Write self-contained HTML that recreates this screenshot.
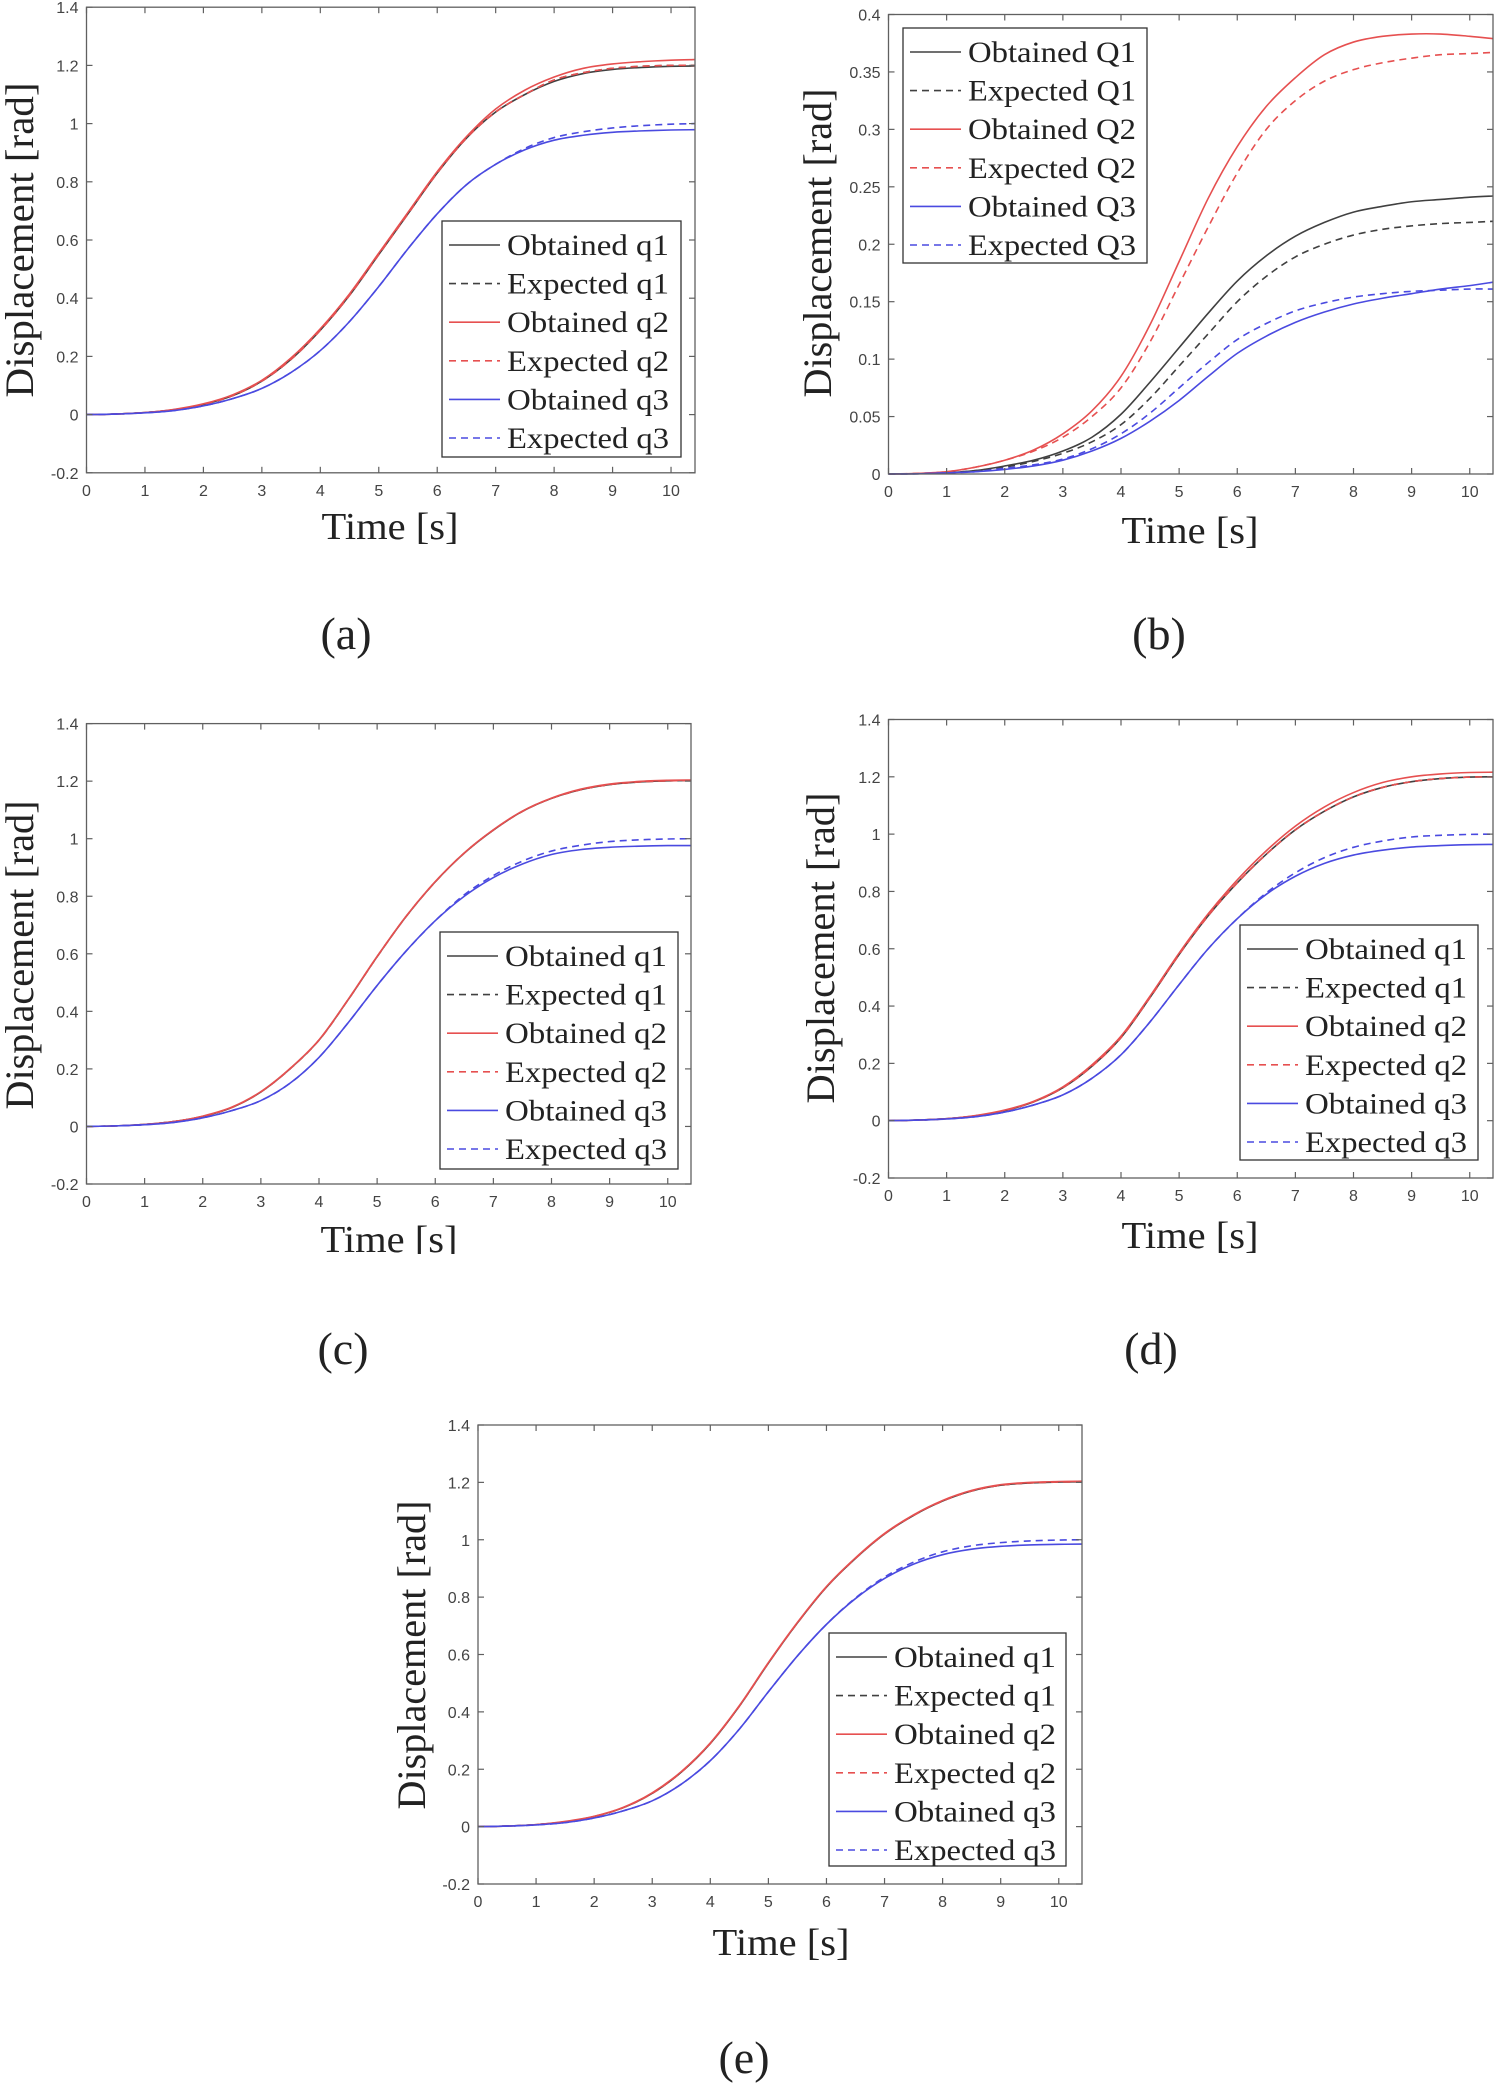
<!DOCTYPE html>
<html><head><meta charset="utf-8"><style>
html,body{margin:0;padding:0;background:#fff;}
svg{display:block;}
.tick{font-family:"Liberation Sans",sans-serif;font-size:16px;fill:#444;}
.lab{font-family:"Liberation Serif",serif;fill:#222;}
</style></head><body>
<svg id="fig" width="1500" height="2088" viewBox="0 0 1500 2088" xmlns="http://www.w3.org/2000/svg">
<defs><clipPath id="clipC"><rect x="0" y="0" width="750" height="1254"/></clipPath></defs>
</svg>
<script>
const times = [0,0.5,1,1.5,2,2.5,3,3.5,4,4.5,5,5.5,6,6.5,7,7.5,8,8.5,9,9.5,10,10.4];
const xTicks = [0,1,2,3,4,5,6,7,8,9,10];
const yTicksQ = [-0.2,0,0.2,0.4,0.6,0.8,1,1.2,1.4];
const yTickLabelsQ = ["-0.2","0","0.2","0.4","0.6","0.8","1","1.2","1.4"];
const yTicksB = [0,0.05,0.1,0.15,0.2,0.25,0.3,0.35,0.4];
const yTickLabelsB = ["0","0.05","0.1","0.15","0.2","0.25","0.3","0.35","0.4"];
const legendQ = ["Obtained q1","Expected q1","Obtained q2","Expected q2","Obtained q3","Expected q3"];
const legendB = ["Obtained Q1","Expected Q1","Obtained Q2","Expected Q2","Obtained Q3","Expected Q3"];

// panel (a)
const a_q1_obt = [0,0.002,0.007,0.017,0.035,0.065,0.115,0.19,0.29,0.41,0.55,0.69,0.83,0.95,1.04,1.10,1.145,1.172,1.186,1.193,1.197,1.198];
const a_q1_exp = [0,0.002,0.007,0.017,0.035,0.065,0.115,0.19,0.29,0.41,0.55,0.69,0.83,0.95,1.04,1.10,1.15,1.175,1.19,1.197,1.2,1.2];
const a_q2_obt = [0,0.002,0.007,0.018,0.037,0.068,0.118,0.195,0.295,0.415,0.555,0.695,0.835,0.955,1.05,1.115,1.16,1.19,1.205,1.213,1.218,1.22];
const a_q2_exp = [0,0.002,0.007,0.017,0.035,0.065,0.115,0.19,0.29,0.41,0.55,0.69,0.83,0.95,1.04,1.10,1.15,1.175,1.19,1.197,1.2,1.2];
const a_q3_obt = [0,0.002,0.006,0.014,0.03,0.055,0.09,0.145,0.22,0.32,0.44,0.57,0.69,0.79,0.86,0.91,0.943,0.96,0.97,0.975,0.978,0.979];
const a_q3_exp = [0,0.002,0.006,0.014,0.03,0.055,0.09,0.145,0.22,0.32,0.44,0.57,0.69,0.79,0.86,0.915,0.952,0.972,0.985,0.993,0.998,1.0];
// panel (b)
const b_q1_obt = [0,0.0003,0.001,0.003,0.007,0.012,0.02,0.032,0.052,0.08,0.11,0.14,0.168,0.19,0.207,0.219,0.228,0.233,0.237,0.239,0.241,0.242];
const b_q1_exp = [0,0.0003,0.001,0.003,0.006,0.011,0.018,0.028,0.043,0.066,0.094,0.122,0.15,0.172,0.189,0.2,0.208,0.213,0.216,0.218,0.219,0.22];
const b_q2_obt = [0,0.0005,0.002,0.006,0.012,0.021,0.035,0.055,0.085,0.13,0.185,0.24,0.285,0.32,0.345,0.365,0.376,0.381,0.383,0.383,0.381,0.379];
const b_q2_exp = [0,0.0005,0.002,0.006,0.012,0.02,0.032,0.05,0.075,0.115,0.165,0.215,0.262,0.3,0.325,0.342,0.352,0.358,0.362,0.365,0.366,0.367];
const b_q3_obt = [0,0.0002,0.001,0.002,0.004,0.007,0.012,0.02,0.031,0.046,0.064,0.085,0.105,0.12,0.132,0.141,0.148,0.153,0.157,0.161,0.164,0.167];
const b_q3_exp = [0,0.0002,0.001,0.002,0.005,0.008,0.013,0.022,0.035,0.053,0.075,0.097,0.117,0.131,0.142,0.149,0.154,0.157,0.159,0.16,0.161,0.161];
// panel (c)
const c_q1_obt = [0,0.002,0.007,0.017,0.035,0.066,0.12,0.2,0.3,0.44,0.59,0.73,0.85,0.95,1.03,1.095,1.14,1.17,1.188,1.197,1.201,1.202];
const c_q1_exp = [0,0.002,0.007,0.017,0.035,0.066,0.12,0.2,0.3,0.44,0.59,0.73,0.85,0.95,1.03,1.095,1.14,1.17,1.188,1.197,1.201,1.202];
const c_q2_obt = [0,0.002,0.007,0.017,0.036,0.067,0.121,0.201,0.301,0.441,0.591,0.731,0.851,0.951,1.031,1.096,1.141,1.172,1.19,1.199,1.203,1.204];
const c_q2_exp = [0,0.002,0.007,0.017,0.035,0.066,0.12,0.2,0.3,0.44,0.59,0.73,0.85,0.95,1.03,1.095,1.14,1.17,1.188,1.197,1.201,1.202];
const c_q3_obt = [0,0.002,0.006,0.014,0.03,0.055,0.09,0.15,0.24,0.36,0.49,0.61,0.715,0.8,0.865,0.912,0.945,0.962,0.97,0.974,0.976,0.976];
const c_q3_exp = [0,0.002,0.006,0.014,0.03,0.055,0.09,0.15,0.24,0.36,0.49,0.61,0.715,0.805,0.872,0.922,0.957,0.977,0.99,0.996,0.999,1.0];
// panel (d)
const d_q1_obt = [0,0.002,0.007,0.017,0.035,0.066,0.115,0.19,0.29,0.43,0.58,0.715,0.83,0.93,1.015,1.08,1.13,1.163,1.183,1.194,1.199,1.2];
const d_q1_exp = [0,0.002,0.007,0.017,0.035,0.066,0.115,0.19,0.29,0.43,0.58,0.715,0.83,0.93,1.015,1.08,1.13,1.163,1.183,1.194,1.199,1.2];
const d_q2_obt = [0,0.002,0.007,0.018,0.037,0.068,0.118,0.195,0.295,0.435,0.585,0.722,0.84,0.942,1.028,1.095,1.145,1.18,1.2,1.21,1.215,1.216];
const d_q2_exp = [0,0.002,0.007,0.017,0.035,0.066,0.115,0.19,0.29,0.43,0.58,0.715,0.83,0.93,1.015,1.08,1.13,1.163,1.183,1.194,1.199,1.2];
const d_q3_obt = [0,0.002,0.006,0.014,0.03,0.055,0.09,0.148,0.23,0.345,0.475,0.6,0.705,0.79,0.853,0.898,0.927,0.944,0.955,0.96,0.963,0.964];
const d_q3_exp = [0,0.002,0.006,0.014,0.03,0.055,0.09,0.148,0.23,0.345,0.475,0.6,0.705,0.795,0.865,0.918,0.954,0.976,0.99,0.996,0.999,1.0];
// panel (e)
const e_q1_obt = [0,0.002,0.007,0.017,0.035,0.066,0.116,0.19,0.29,0.42,0.57,0.71,0.835,0.935,1.02,1.085,1.135,1.17,1.19,1.198,1.201,1.202];
const e_q1_exp = [0,0.002,0.007,0.017,0.035,0.066,0.116,0.19,0.29,0.42,0.57,0.71,0.835,0.935,1.02,1.085,1.135,1.17,1.19,1.198,1.201,1.202];
const e_q2_obt = [0,0.002,0.007,0.018,0.036,0.067,0.118,0.192,0.292,0.422,0.572,0.712,0.837,0.937,1.022,1.087,1.137,1.172,1.192,1.2,1.203,1.204];
const e_q2_exp = [0,0.002,0.007,0.017,0.035,0.066,0.116,0.19,0.29,0.42,0.57,0.71,0.835,0.935,1.02,1.085,1.135,1.17,1.19,1.198,1.201,1.202];
const e_q3_obt = [0,0.002,0.006,0.014,0.03,0.055,0.09,0.148,0.23,0.34,0.47,0.595,0.705,0.795,0.865,0.915,0.948,0.967,0.977,0.982,0.984,0.985];
const e_q3_exp = [0,0.002,0.006,0.014,0.03,0.055,0.09,0.148,0.23,0.34,0.47,0.595,0.705,0.797,0.87,0.922,0.958,0.979,0.99,0.996,0.999,1.0];

const NS = "http://www.w3.org/2000/svg";
const svg = document.getElementById("fig");
const COL = {k:"#404040", r:"#e65050", b:"#4a4ae0"};

function mk(tag, attrs, parent){
  const el = document.createElementNS(NS, tag);
  for (const k in attrs) el.setAttribute(k, attrs[k]);
  (parent||svg).appendChild(el);
  return el;
}
function smoothPath(pts){
  let d = "M" + pts[0][0].toFixed(2) + "," + pts[0][1].toFixed(2);
  for (let i=0;i<pts.length-1;i++){
    const p0 = pts[Math.max(0,i-1)], p1 = pts[i], p2 = pts[i+1], p3 = pts[Math.min(pts.length-1,i+2)];
    const c1x = p1[0] + (p2[0]-p0[0])/6, c1y = p1[1] + (p2[1]-p0[1])/6;
    const c2x = p2[0] - (p3[0]-p1[0])/6, c2y = p2[1] - (p3[1]-p1[1])/6;
    d += " C" + c1x.toFixed(2)+","+c1y.toFixed(2)+" "+c2x.toFixed(2)+","+c2y.toFixed(2)+" "+p2[0].toFixed(2)+","+p2[1].toFixed(2);
  }
  return d;
}

function drawPanel(p){
  const g = mk("g", {});
  
  
  if (p.clip) g.setAttribute('clip-path', p.clip);
  const xS = v => p.L + (v - 0) / (p.xmax - 0) * (p.R - p.L);
  const yS = v => p.B - (v - p.ymin) / (p.ymax - p.ymin) * (p.B - p.T);

  p.series.forEach((s, i) => {
    const pts = times.map((t, j) => [xS(t), yS(s.data[j])]);
    const path = mk("path", {d: smoothPath(pts), fill:"none", stroke: COL[s.c], "stroke-width": 1.6, "stroke-dasharray": s.dash ? "7 5" : "none"}, g);
    
    
  });

  const box = mk("rect", {x:p.L, y:p.T, width:p.R-p.L, height:p.B-p.T, fill:"none", stroke:"#606060", "stroke-width":1.3}, g);
  
  

  xTicks.forEach(v => {
    const x = xS(v);
    mk("line", {x1:x, x2:x, y1:p.B, y2:p.B-6, stroke:"#606060", "stroke-width":1.2}, g);
    mk("line", {x1:x, x2:x, y1:p.T, y2:p.T+6, stroke:"#606060", "stroke-width":1.2}, g);
    const t = mk("text", {x:x, y:p.B+23, "text-anchor":"middle", class:"tick"}, g);
    t.textContent = String(v);
    
    
  });
  p.yTicks.forEach((v, i) => {
    const y = yS(v);
    mk("line", {x1:p.L, x2:p.L+6, y1:y, y2:y, stroke:"#606060", "stroke-width":1.2}, g);
    mk("line", {x1:p.R, x2:p.R-6, y1:y, y2:y, stroke:"#606060", "stroke-width":1.2}, g);
    const t = mk("text", {x:p.L-8, y:y+6, "text-anchor":"end", class:"tick"}, g);
    t.textContent = p.yLabels[i];
    
    
  });

  const lg = mk("g", {}, g);
  
  
  mk("rect", {x:p.lg[0], y:p.lg[1], width:p.lg[2]-p.lg[0], height:p.lg[3]-p.lg[1], fill:"#fff", stroke:"#333", "stroke-width":1.3}, lg);
  p.series.forEach((s, i) => {
    const cy = p.lg[1] + 24 + i * 38.6;
    const entry = mk("g", {}, lg);
    
    
    mk("line", {x1:p.lg[0]+7, x2:p.lg[0]+58, y1:cy, y2:cy, stroke:COL[s.c], "stroke-width":1.6, "stroke-dasharray": s.dash ? "7 5" : "none"}, entry);
    const t = mk("text", {x:p.lg[0]+65, y:cy+10, class:"lab", "font-size":30, textLength:p.lgw, lengthAdjust:"spacingAndGlyphs"}, entry);
    t.textContent = p.legend[i];
  });

  const yl = mk("text", {x:0, y:0, class:"lab", "font-size":40, "text-anchor":"middle", textLength:p.ylen, lengthAdjust:"spacingAndGlyphs",
    transform:"translate("+(p.ylab[0]+14)+","+p.ylab[1]+") rotate(-90)"}, g);
  yl.textContent = "Displacement [rad]";
  
  
  const xl = mk("text", {x:p.xlab[0], y:p.xlab[1], class:"lab", "font-size":38, "text-anchor":"middle", textLength:137, lengthAdjust:"spacingAndGlyphs"}, g);
  xl.textContent = "Time [s]";
  
  

  const cap = mk("text", {x:p.cap[0], y:p.cap[1]+15, class:"lab", "font-size":46, "text-anchor":"middle"});
  cap.textContent = "(" + p.id + ")";
  
  
}

function qSeries(o1,e1,o2,e2,o3,e3){
  return [{data:o1,c:"k"},{data:e1,c:"k",dash:1},{data:o2,c:"r"},{data:e2,c:"r",dash:1},{data:o3,c:"b"},{data:e3,c:"b",dash:1}];
}

drawPanel({id:"a", L:86.5, R:695, T:7.2, B:472.8, xmax:10.41, ymin:-0.2, ymax:1.4, yTicks:yTicksQ, yLabels:yTickLabelsQ,
  series:qSeries(a_q1_obt,a_q1_exp,a_q2_obt,a_q2_exp,a_q3_obt,a_q3_exp), legend:legendQ, lg:[442,221,681,457], lgw:162,
  ylab:[19,240], ylen:315, xlab:[390,539], cap:[346,634]});
drawPanel({id:"b", L:888.5, R:1493, T:14.5, B:474, xmax:10.4, ymin:0, ymax:0.4, yTicks:yTicksB, yLabels:yTickLabelsB,
  series:qSeries(b_q1_obt,b_q1_exp,b_q2_obt,b_q2_exp,b_q3_obt,b_q3_exp), legend:legendB, lg:[903,28,1147,263], lgw:168,
  ylab:[817,243], ylen:309, xlab:[1190,543], cap:[1159,634]});
drawPanel({id:"c", L:86.5, R:691, T:723.6, B:1184, xmax:10.4, ymin:-0.2, ymax:1.4, yTicks:yTicksQ, yLabels:yTickLabelsQ,
  series:qSeries(c_q1_obt,c_q1_exp,c_q2_obt,c_q2_exp,c_q3_obt,c_q3_exp), legend:legendQ, lg:[440,932,678,1169], lgw:162,
  ylab:[19,955], ylen:309, xlab:[389,1252], cap:[343,1349], clip:"url(#clipC)"});
drawPanel({id:"d", L:888.5, R:1493, T:719.5, B:1178, xmax:10.4, ymin:-0.2, ymax:1.4, yTicks:yTicksQ, yLabels:yTickLabelsQ,
  series:qSeries(d_q1_obt,d_q1_exp,d_q2_obt,d_q2_exp,d_q3_obt,d_q3_exp), legend:legendQ, lg:[1240,925,1478,1160], lgw:162,
  ylab:[820,948], ylen:311, xlab:[1190,1248], cap:[1151,1349]});
drawPanel({id:"e", L:478, R:1082, T:1425, B:1884, xmax:10.4, ymin:-0.2, ymax:1.4, yTicks:yTicksQ, yLabels:yTickLabelsQ,
  series:qSeries(e_q1_obt,e_q1_exp,e_q2_obt,e_q2_exp,e_q3_obt,e_q3_exp), legend:legendQ, lg:[829,1633,1066,1866], lgw:162,
  ylab:[411,1655], ylen:309, xlab:[781,1955], cap:[744,2058]});
</script>
</body></html>
